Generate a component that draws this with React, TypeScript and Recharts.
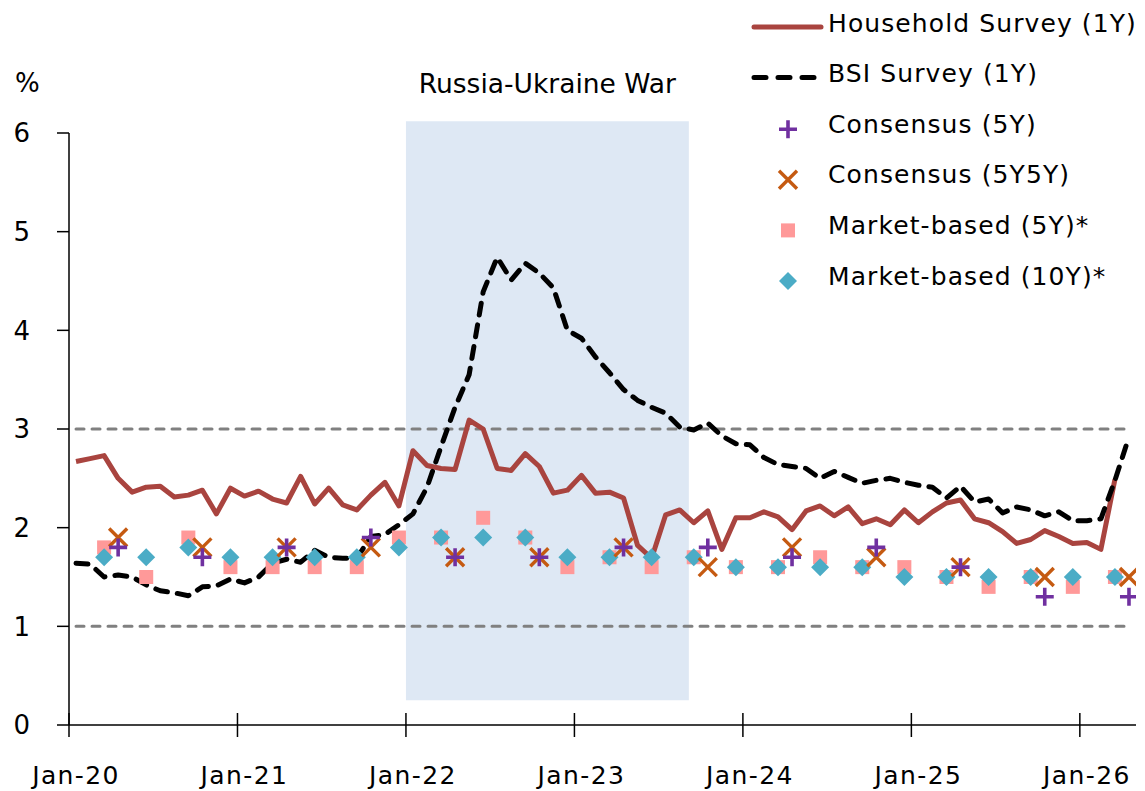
import {
  ComposedChart,
  Line,
  Scatter,
  XAxis,
  YAxis,
  ReferenceArea,
  ReferenceLine,
  Legend,
  Label,
} from "recharts";

const MONTHS = ["Jan", "Feb", "Mar", "Apr", "May", "Jun", "Jul", "Aug", "Sep", "Oct", "Nov", "Dec"];
const FIRST_YEAR = 20;
const TOTAL_MONTHS = 76; // Jan-20 .. Apr-26

const xTickLabels = ["Jan-20", "Jan-21", "Jan-22", "Jan-23", "Jan-24", "Jan-25", "Jan-26"];
const yTicks = [0, 1, 2, 3, 4, 5, 6];

// monthly, from Jan-20
const householdSurvey = [
  2.67, 2.7, 2.73, 2.5, 2.36, 2.41, 2.42, 2.31, 2.33, 2.38, 2.14, 2.4,
  2.32, 2.37, 2.29, 2.25, 2.52, 2.24, 2.4, 2.23, 2.18, 2.33, 2.46, 2.22,
  2.78, 2.63, 2.6, 2.59, 3.09, 3.0, 2.6, 2.58, 2.75, 2.62, 2.35, 2.38,
  2.53, 2.35, 2.36, 2.3, 1.82, 1.69, 2.13, 2.18, 2.05, 2.17, 1.78, 2.1,
  2.1, 2.16, 2.11, 1.98, 2.17, 2.22, 2.12, 2.21, 2.04, 2.09, 2.03, 2.18,
  2.05, 2.16, 2.25, 2.28, 2.09, 2.05, 1.96, 1.84, 1.88, 1.97, 1.91, 1.84,
  1.85, 1.78, 2.49,
];
const bsiSurvey = [
  1.64, 1.63, 1.5, 1.52, 1.5, 1.42, 1.36, 1.34, 1.31, 1.4, 1.41, 1.48,
  1.44, 1.5, 1.64, 1.68, 1.65, 1.77, 1.7, 1.69, 1.69, 1.91, 1.93, 2.03,
  2.14, 2.41, 2.82, 3.22, 3.55, 4.39, 4.74, 4.51, 4.68, 4.58, 4.43, 4.0,
  3.92, 3.73, 3.57, 3.4, 3.29, 3.22, 3.16, 3.02, 2.99, 3.06, 2.93, 2.85,
  2.84, 2.71, 2.64, 2.62, 2.6, 2.5, 2.57, 2.51, 2.45, 2.48, 2.5, 2.46,
  2.43, 2.41, 2.3, 2.42, 2.26, 2.29, 2.15, 2.21, 2.18, 2.12, 2.16, 2.07,
  2.07, 2.09, 2.48, 2.92,
];

const consensusDates = [
  "Apr-20", "Oct-20", "Apr-21", "Oct-21", "Apr-22", "Oct-22", "Apr-23",
  "Oct-23", "Apr-24", "Oct-24", "Apr-25", "Oct-25", "Apr-26",
];
const consensus5Y = [1.8, 1.7, 1.8, 1.9, 1.7, 1.7, 1.8, 1.8, 1.7, 1.8, 1.6, 1.3, 1.3];
const consensus5Y5Y = [1.9, 1.8, 1.8, 1.8, 1.7, 1.7, 1.8, 1.6, 1.8, 1.7, 1.6, 1.5, 1.5];

const marketDates = [
  "Mar-20", "Jun-20", "Sep-20", "Dec-20", "Mar-21", "Jun-21", "Sep-21", "Dec-21",
  "Mar-22", "Jun-22", "Sep-22", "Dec-22", "Mar-23", "Jun-23", "Sep-23", "Dec-23",
  "Mar-24", "Jun-24", "Sep-24", "Dec-24", "Mar-25", "Jun-25", "Sep-25", "Dec-25", "Mar-26",
];
const market5Y = [
  1.8, 1.5, 1.9, 1.6, 1.6, 1.6, 1.6, 1.9, 1.9, 2.1, 1.9, 1.6, 1.7,
  1.6, 1.7, 1.6, 1.6, 1.7, 1.6, 1.6, 1.5, 1.4, 1.5, 1.4, 1.5,
];
const market10Y = [
  1.7, 1.7, 1.8, 1.7, 1.7, 1.7, 1.7, 1.8, 1.9, 1.9, 1.9, 1.7, 1.7,
  1.7, 1.7, 1.6, 1.6, 1.6, 1.6, 1.5, 1.5, 1.5, 1.5, 1.5, 1.5,
];

// shaded war period, in months from Jan-20, and its vertical extent in %
const warPeriod = { start: 24, end: 44.15, low: 0.25, high: 6.12 };
const targetBand = [1, 3];

const W = 1145;
const H = 791;
const LEFT = 69;
const RIGHT = 9;
const TOP = 133;
const BOTTOM = 66;
const FONT = "'DejaVu Sans', sans-serif";
const monthPx = (W - LEFT - RIGHT) / TOTAL_MONTHS;

const RED = "#A9443F";
const PURPLE = "#7030A0";
const ORANGE = "#C55A11";
const PINK = "#FF9999";
const TEAL = "#4BACC6";

const monthIndex = (label: string) => {
  const [m, y] = label.split("-");
  return (Number(y) - FIRST_YEAR) * 12 + MONTHS.indexOf(m);
};

const monthly = (values: number[]) => values.map((y, i) => ({ x: i + 0.5, y }));
const dated = (dates: string[], values: number[]) =>
  values.map((y, i) => ({ x: monthIndex(dates[i]) + 0.5, y }));

const xTicks = xTickLabels.map(monthIndex);

function marker(kind: string, cx: number, cy: number) {
  if (kind === "plus") {
    const r = 9;
    return (
      <path d={`M${cx - r},${cy}H${cx + r}M${cx},${cy - r}V${cy + r}`} stroke={PURPLE} strokeWidth={3.6} fill="none" />
    );
  }
  if (kind === "x") {
    const r = 9;
    return (
      <path
        d={`M${cx - r},${cy - r}L${cx + r},${cy + r}M${cx - r},${cy + r}L${cx + r},${cy - r}`}
        stroke={ORANGE}
        strokeWidth={3.4}
        fill="none"
      />
    );
  }
  if (kind === "square") {
    const s = 7;
    return <rect x={cx - s} y={cy - s} width={s * 2} height={s * 2} fill={PINK} />;
  }
  if (kind === "diamond") {
    const r = 9;
    return <path d={`M${cx},${cy - r}L${cx + r},${cy}L${cx},${cy + r}L${cx - r},${cy}Z`} fill={TEAL} />;
  }
  return null;
}

const shapeOf = (kind: string) => (props: any) => marker(kind, props.cx, props.cy);

const legendItems = [
  { name: "Household Survey (1Y)", kind: "line" },
  { name: "BSI Survey (1Y)", kind: "dash" },
  { name: "Consensus (5Y)", kind: "plus" },
  { name: "Consensus (5Y5Y)", kind: "x" },
  { name: "Market-based (5Y)*", kind: "square" },
  { name: "Market-based (10Y)*", kind: "diamond" },
];

function ChartLegend() {
  return (
    <svg width={405} height={300} style={{ display: "block" }}>
      {legendItems.map((item, i) => {
        const cy = 27 + i * 50.6;
        let symbol;
        if (item.kind === "line") {
          symbol = <line x1={14} x2={81} y1={cy} y2={cy} stroke={RED} strokeWidth={5} strokeLinecap="round" />;
        } else if (item.kind === "dash") {
          symbol = (
            <line x1={14} x2={78} y1={cy} y2={cy} stroke="#000" strokeWidth={5} strokeLinecap="round" strokeDasharray="12 12" />
          );
        } else {
          symbol = marker(item.kind, 48, cy + 1);
        }
        return (
          <g key={item.name}>
            {symbol}
            <text
              x={88}
              y={cy - 4}
              dominantBaseline="central"
              fontFamily={FONT}
              fontSize={25}
              letterSpacing={1.1}
              fill="#000"
            >
              {item.name}
            </text>
          </g>
        );
      })}
    </svg>
  );
}

function XTick(props: any) {
  const { x, y, payload } = props;
  const label = xTickLabels[xTicks.indexOf(payload.value)];
  return (
    <g>
      <line x1={x} x2={x} y1={y - 12} y2={y + 12} stroke="#000" strokeWidth={1.5} />
      <text x={x + monthPx / 2} y={y + 59} textAnchor="middle" fontFamily={FONT} fontSize={25} letterSpacing={1.4} fill="#000">
        {label}
      </text>
    </g>
  );
}

export default function App() {
  return (
    <div style={{ position: "absolute", left: 0, top: 0, width: W, height: H, background: "#fff" }}>
      <ComposedChart width={W} height={H} margin={{ top: TOP, right: RIGHT, left: 0, bottom: 0 }}>
        <ReferenceArea
          x1={warPeriod.start}
          x2={warPeriod.end}
          y1={warPeriod.low}
          y2={warPeriod.high}
          ifOverflow="visible"
          fill="#DEE8F4"
          fillOpacity={1}
          stroke="none"
          zIndex={-50}
          label={(p: any) => (
            <text
              x={p.viewBox.x + p.viewBox.width / 2}
              y={p.viewBox.y - 28}
              textAnchor="middle"
              fontFamily={FONT}
              fontSize={26.5}
              fill="#000"
            >
              Russia-Ukraine War
            </text>
          )}
        />
        {targetBand.map((v) => (
          <ReferenceLine
            key={v}
            segment={[
              { x: 0.5, y: v },
              { x: TOTAL_MONTHS - 0.5, y: v },
            ]}
            stroke="#808080"
            strokeWidth={3}
            strokeDasharray="8 8"
            strokeLinecap="round"
          />
        ))}
        <XAxis
          type="number"
          dataKey="x"
          domain={[0, TOTAL_MONTHS]}
          ticks={xTicks}
          interval={0}
          allowDataOverflow
          height={BOTTOM}
          tickSize={0}
          tickMargin={0}
          tickLine={false}
          axisLine={{ stroke: "#000", strokeWidth: 1.5 }}
          tick={<XTick />}
        />
        <YAxis
          type="number"
          dataKey="y"
          domain={[0, 6]}
          ticks={yTicks}
          interval={0}
          allowDataOverflow
          width={LEFT}
          tickSize={12}
          tickMargin={27}
          axisLine={{ stroke: "#000", strokeWidth: 1.5 }}
          tickLine={{ stroke: "#000", strokeWidth: 1.5 }}
          tick={{ fontSize: 26, fill: "#000", fontFamily: FONT }}
        >
          <Label
            content={() => (
              <text x={15} y={92} fontFamily={FONT} fontSize={26} fill="#000">
                %
              </text>
            )}
          />
        </YAxis>
        <Line
          data={monthly(householdSurvey)}
          dataKey="y"
          name={legendItems[0].name}
          type="linear"
          stroke={RED}
          strokeWidth={5}
          strokeLinejoin="round"
          dot={false}
          isAnimationActive={false}
        />
        <Line
          data={monthly(bsiSurvey)}
          dataKey="y"
          name={legendItems[1].name}
          type="linear"
          stroke="#000"
          strokeWidth={5}
          strokeDasharray="12 10"
          strokeLinecap="round"
          strokeLinejoin="round"
          dot={false}
          isAnimationActive={false}
        />
        <Scatter
          data={dated(marketDates, market5Y)}
          dataKey="y"
          name={legendItems[4].name}
          shape={shapeOf("square")}
          isAnimationActive={false}
        />
        <Scatter
          data={dated(marketDates, market10Y)}
          dataKey="y"
          name={legendItems[5].name}
          shape={shapeOf("diamond")}
          isAnimationActive={false}
        />
        <Scatter
          data={dated(consensusDates, consensus5Y5Y)}
          dataKey="y"
          name={legendItems[3].name}
          shape={shapeOf("x")}
          isAnimationActive={false}
        />
        <Scatter
          data={dated(consensusDates, consensus5Y)}
          dataKey="y"
          name={legendItems[2].name}
          shape={shapeOf("plus")}
          isAnimationActive={false}
        />
        <Legend
          layout="vertical"
          align="center"
          verticalAlign="middle"
          wrapperStyle={{ left: 740, top: 0, width: 405, height: 300 }}
          content={() => <ChartLegend />}
        />
      </ComposedChart>
    </div>
  );
}
